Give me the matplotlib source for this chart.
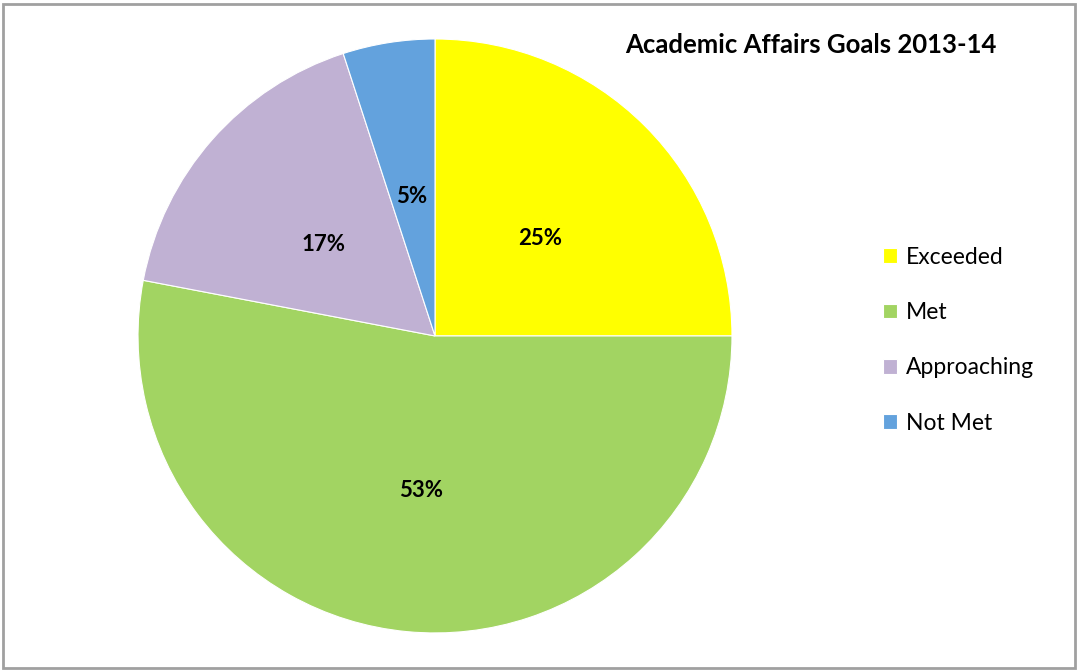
import matplotlib
matplotlib.use("Agg")
from matplotlib import pyplot as plt
from matplotlib.patches import Rectangle

categories = ["Exceeded", "Met", "Approaching", "Not Met"]
shares = [25, 53, 17, 5]
colors = ["#FFFF00", "#A2D462", "#C0B1D3", "#63A2DD"]
title = "Academic Affairs Goals 2013-14"

plt.rcParams["font.family"] = ["Lato", "DejaVu Sans"]

fig = plt.figure(figsize=(10.77, 6.71), dpi=100)
fig.patches.append(Rectangle((0.003, 0.005), 0.995, 0.989, transform=fig.transFigure,
                             fill=False, edgecolor="#a0a0a0", linewidth=2))

# pie placed so its centre sits left of middle, legend on the right
ax = fig.add_axes([0.4039 - 0.2758, 0.4993 - 0.4426, 0.5516, 0.8852])
wedges, texts, autotexts = ax.pie(
    shares, colors=colors, startangle=90, counterclock=False,
    autopct=lambda p: f"{p:.0f}%", pctdistance=0.5,
    wedgeprops=dict(edgecolor="white", linewidth=0.8),
    textprops=dict(fontsize=16, fontweight="bold", color="black"),
)
# nudge the percent labels a touch lower, like the original
for t in autotexts:
    x, y = t.get_position()
    t.set_position((x, y - 0.024))
ax.set_xlim(-1, 1)
ax.set_ylim(-1, 1)
ax.set_aspect("equal")

fig.text(0.753, 0.933, title, fontsize=18.5, fontweight="bold", ha="center", va="center")

fig.legend(wedges, categories, loc="center left", bbox_to_anchor=(0.801, 0.493),
           frameon=False, fontsize=16.5, labelspacing=1.5, handlelength=0.6,
           handleheight=0.6, handletextpad=0.4)

fig.savefig("out.png", dpi=100)
